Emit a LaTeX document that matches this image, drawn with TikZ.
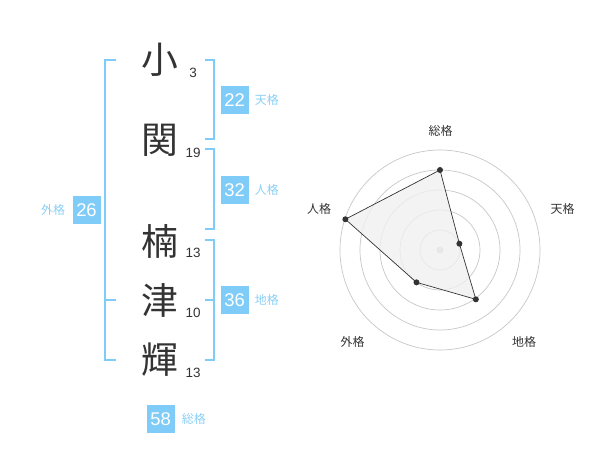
\documentclass[tikz,border=0pt]{standalone}
\usepackage{fontspec}
\usetikzlibrary{positioning}
\setmainfont{Liberation Sans}
\newfontfamily\jp{Noto Sans CJK JP}
\definecolor{brk}{HTML}{7FCCF8}
\definecolor{lbl}{HTML}{8ACFF5}
\definecolor{ink}{HTML}{333333}
\begin{document}
\begin{tikzpicture}[x=1bp,y=-1bp,
  kanji/.style={font=\jp\fontsize{37}{37}\selectfont, text=ink, inner sep=0},
  strokes/.style={font=\fontsize{13.5}{13.5}\selectfont, text=ink, inner sep=0},
  valbox/.style={fill=brk, text=white, minimum width=28bp, minimum height=28bp, inner sep=0, font=\fontsize{18.5}{18.5}\selectfont},
  caption/.style={font=\jp\fontsize{12}{12}\selectfont, text=lbl, inner sep=0},
  bracket/.style={draw=brk, line width=2bp},
  ring/.style={draw=black!22, line width=0.7bp},
  axislbl/.style={font=\jp\fontsize{12}{12}\selectfont, text=ink, inner sep=0},
  dot/.style={circle, fill=ink, inner sep=0, minimum size=6bp}]
\useasboundingbox (0,0) rectangle (600,470);
% characters
\node[kanji] (k1) at (160,60) {小};
\node[kanji] (k2) at (160,140.5) {関};
\node[kanji] (k3) at (160,241) {楠};
\node[kanji] (k4) at (160,300) {津};
\node[kanji] (k5) at (160,360) {輝};
\node[strokes] (s1) at (193,73) {3};
\node[strokes] (s2) at (193,153) {19};
\node[strokes] (s3) at (193,252.5) {13};
\node[strokes] (s4) at (193,313) {10};
\node[strokes] (s5) at (193,373) {13};
% brackets
\draw[bracket] (116,60) -- (105,60) -- (105,359.5) -- (116,359.5);
\draw[bracket] (105,300) -- (116,300);
\draw[bracket] (205,60) -- (214,60) -- (214,139.5) -- (205,139.5);
\draw[bracket] (205,149.5) -- (214,149.5) -- (214,229.5) -- (205,229.5);
\draw[bracket] (205,240) -- (214,240) -- (214,359.5) -- (205,359.5);
\draw[bracket] (205,300) -- (214,300);
% value boxes
\node[valbox] (ten) at (234.5,100) {22};
\node[caption, right=6bp of ten] (tenl) {天格};
\node[valbox] (jin) at (234.5,190) {32};
\node[caption, right=6bp of jin] (jinl) {人格};
\node[valbox] (chi) at (234.5,300) {36};
\node[caption, right=6bp of chi] (chil) {地格};
\node[valbox] (gai) at (86.5,210) {26};
\node[caption, left=7bp of gai] (gail) {外格};
\node[valbox] (sou) at (160.5,419) {58};
\node[caption, right=7bp of sou] (soul) {総格};
% radar
\coordinate (c) at (440,250);
\foreach \r in {20,40,60,80,100}
  \draw[ring] (c) circle[radius=\r bp];
\fill[black!22] (c) circle[radius=3.5bp];
\coordinate (pS) at ([shift={(90:80bp)}]c);
\coordinate (pT) at ([shift={(18:20.4bp)}]c);
\coordinate (pC) at ([shift={(-54:61bp)}]c);
\coordinate (pG) at ([shift={(-126:40bp)}]c);
\coordinate (pJ) at ([shift={(162:99.5bp)}]c);
\draw[fill=black!6, fill opacity=0.8, draw=ink, line width=0.7bp] (pS) -- (pT) -- (pC) -- (pG) -- (pJ) -- cycle;
\foreach \p in {pS,pT,pC,pG,pJ}
  \node[dot] at (\p) {};
\node[axislbl] (aS) at (440.5,130.5) {総格};
\node[axislbl] (aT) at (562.5,208.5) {天格};
\node[axislbl] (aC) at (524,342) {地格};
\node[axislbl] (aG) at (352.5,342) {外格};
\node[axislbl] (aJ) at (319,208.5) {人格};
\end{tikzpicture}
\end{document}
